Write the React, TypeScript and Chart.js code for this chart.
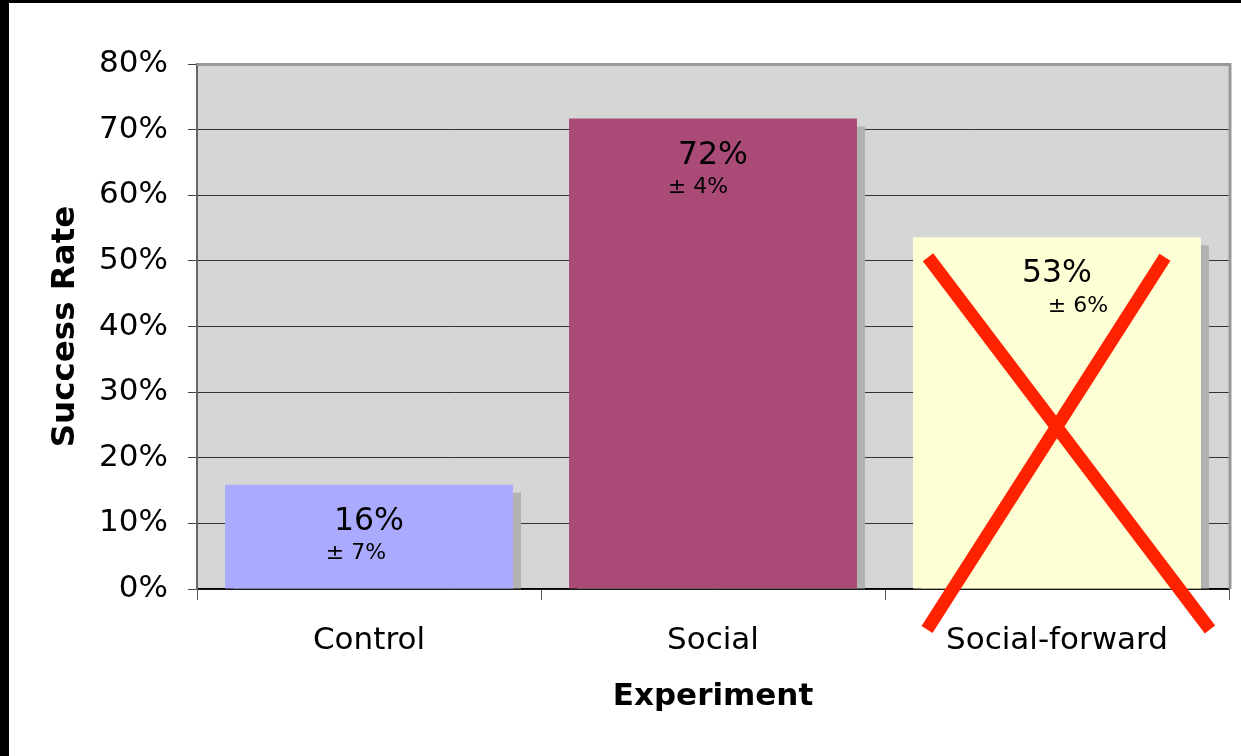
import React, { useEffect, useRef } from "react";
import { Chart, registerables } from "chart.js";

Chart.register(...registerables);

const categories = ["Control", "Social", "Social-forward"];
const successRates = [15.9, 71.7, 53.6];
const rateLabels = ["16%", "72%", "53%"];
const errorLabels = ["± 7%", "± 4%", "± 6%"];
const barColors = ["#AAAAFF", "#AA4A77", "#FFFFD6"];
const yTicks = [0, 10, 20, 30, 40, 50, 60, 70, 80];
const crossedOut = [false, false, true];

const FONT = "'DejaVu Sans', Verdana, sans-serif";
const errOffsetX = [-13, -15, 21];

export default function App() {
  const ref = useRef<HTMLCanvasElement | null>(null);

  useEffect(() => {
    if (!ref.current) return;

    const framePlugin = {
      id: "frame",
      beforeDraw(chart: any) {
        const c = chart.ctx;
        c.save();
        c.fillStyle = "#fff";
        c.fillRect(0, 0, chart.width, chart.height);
        const a = chart.chartArea;
        c.fillStyle = "#D6D6D6";
        c.fillRect(a.left, a.top, a.right - a.left, a.bottom - a.top);
        c.restore();
      },
      beforeDatasetsDraw(chart: any) {
        const c = chart.ctx;
        const meta = chart.getDatasetMeta(0);
        c.save();
        c.fillStyle = "#B2B2B2";
        meta.data.forEach((el: any) => {
          const w = el.width;
          c.fillRect(el.x - w / 2 + 8, el.y + 8, w, el.base - el.y - 8);
        });
        c.restore();
      },
      afterDatasetsDraw(chart: any) {
        const c = chart.ctx;
        const meta = chart.getDatasetMeta(0);
        c.save();
        c.fillStyle = "#000";
        c.textAlign = "center";
        c.textBaseline = "middle";
        meta.data.forEach((el: any, i: number) => {
          c.font = `31.5px ${FONT}`;
          c.fillText(rateLabels[i], el.x, el.y + 37);
          c.font = `22px ${FONT}`;
          c.fillText(errorLabels[i], el.x + errOffsetX[i], el.y + 69);
        });
        // crossed-out marker
        meta.data.forEach((el: any, i: number) => {
          if (!crossedOut[i]) return;
          const l = el.x - el.width / 2;
          const r = el.x + el.width / 2;
          c.strokeStyle = "#FF2200";
          c.lineWidth = 13;
          c.lineCap = "butt";
          c.beginPath();
          c.moveTo(l + 15, el.y + 20);
          c.lineTo(r + 9, el.base + 41);
          c.moveTo(r - 36, el.y + 20);
          c.lineTo(l + 14, el.base + 41);
          c.stroke();
        });
        c.restore();
      },
      afterDraw(chart: any) {
        const c = chart.ctx;
        const a = chart.chartArea;
        c.save();
        c.strokeStyle = "#999999";
        c.lineWidth = 3;
        c.beginPath();
        c.moveTo(a.left, a.top + 0.5);
        c.lineTo(a.right + 1, a.top + 0.5);
        c.lineTo(a.right + 1, a.bottom);
        c.stroke();
        c.fillStyle = "#000";
        c.fillRect(0, 0, 9, chart.height);
        c.fillRect(0, 0, chart.width, 3);
        c.restore();
      },
    };

    const chart = new Chart(ref.current, {
      type: "bar",
      data: {
        labels: categories,
        datasets: [
          {
            data: successRates,
            backgroundColor: barColors,
            borderWidth: 0,
            categoryPercentage: 1,
            barPercentage: 0.837,
          },
        ],
      },
      options: {
        responsive: false,
        animation: false,
        layout: { padding: { left: 0, top: 64, right: 12, bottom: 0 } },
        plugins: {
          legend: { display: false },
          tooltip: { enabled: false },
        },
        scales: {
          x: {
            offset: true,
            grid: {
              display: true,
              offset: true,
              drawOnChartArea: false,
              drawTicks: true,
              tickLength: 11,
              color: "#555",
            },
            border: { display: true, color: "#000", width: 1.5 },
            ticks: {
              color: "#000",
              font: { family: FONT, size: 31 },
              padding: 22,
              maxRotation: 0,
            },
            title: {
              display: true,
              text: "Experiment",
              color: "#000",
              font: { family: FONT, size: 31, weight: "bold" },
              padding: { top: 0, bottom: 40 },
            },
            afterFit(s: any) {
              s.height = 167;
            },
          },
          y: {
            min: 0,
            max: 80,
            afterBuildTicks(s: any) {
              s.ticks = yTicks.map((v) => ({ value: v }));
            },
            grid: {
              color: "#333",
              lineWidth: 1,
              drawTicks: true,
              tickLength: 9,
              tickColor: "#444",
            },
            border: { display: true, color: "#666", width: 2 },
            ticks: {
              color: "#000",
              font: { family: FONT, size: 31 },
              padding: 20,
              callback: (v: any) => `${v}%`,
            },
            title: {
              display: true,
              text: "Success Rate",
              color: "#000",
              font: { family: FONT, size: 32.5, weight: "bold" },
              padding: { top: 46, bottom: 0 },
            },
            afterFit(s: any) {
              s.width = 197;
            },
          },
        },
      },
      plugins: [framePlugin],
    });

    return () => chart.destroy();
  }, []);

  return (
    <div style={{ position: "fixed", left: 0, top: 0, width: 1241, height: 756, background: "#fff" }}>
      <canvas ref={ref} width={1241} height={756} style={{ display: "block" }} />
    </div>
  );
}
